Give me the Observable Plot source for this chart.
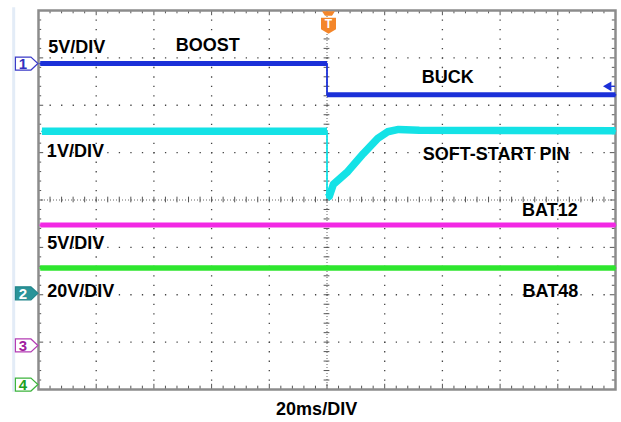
<!DOCTYPE html>
<html><head><meta charset="utf-8">
<script src="https://cdn.jsdelivr.net/npm/d3@7"></script>
<script src="https://cdn.jsdelivr.net/npm/@observablehq/plot@0.6"></script>
<style>html,body{margin:0;padding:0;background:#fff}#chart{width:621px;height:422px}</style>
</head><body><div id="chart"></div>
<script>
// Time in divisions (20 ms/div), level in screen divisions (0 = bottom graticule line)
const triggerTime = 5.0;
const boostBuckT = [0.03, 5.0, 5.0, 10.0];
const boostBuckV = [6.88, 6.88, 6.22, 6.22];
const softStartT = [0.06, 5.0, 5.0, 5.04, 5.11, 5.36, 5.63, 5.88, 6.05, 6.24, 6.6, 10.0];
const softStartV = [5.45, 5.45, 4.05, 4.08, 4.33, 4.60, 4.98, 5.30, 5.44, 5.49, 5.47, 5.46];
const bat12T = [0.03, 10.0];
const bat12V = [3.47, 3.47];
const bat48T = [0.03, 10.0];
const bat48V = [2.565, 2.565];

const labelText = ["5V/DIV", "BOOST", "BUCK", "1V/DIV", "SOFT-START PIN", "BAT12", "5V/DIV", "20V/DIV", "BAT48"];
const labelT    = [0.17, 2.38, 6.64, 0.145, 6.66, 8.38, 0.15, 0.15, 8.39];
const labelV    = [7.23, 7.27, 6.60, 5.03, 4.96, 3.78, 3.09, 2.07, 2.07];
const timeLabel = "20ms/DIV";

const channelNames  = ["1", "2", "3", "4"];
const channelLevels = [6.88, 2.03, 0.93, 0.105];
const refArrowLevel = 6.40;

const chColors = {
  blue: "#1b30d8", cyan: "#14e2e6", magenta: "#f228e4", green: "#2ee62e"
};
const markerStyle = [
  {stroke: "#3a3ac8", fill: "#ffffff", text: "#3030c0"},
  {stroke: "#23868c", fill: "#2a9499", text: "#ffffff"},
  {stroke: "#b43cb4", fill: "#ffffff", text: "#a020a0"},
  {stroke: "#3cb43c", fill: "#ffffff", text: "#20a020"}
];

function rows(T, V) { return T.map((t, i) => ({t, v: V[i]})); }
function segments(T, V) {
  let s = 0;
  return T.map((t, i) => { if (i > 0 && t === T[i - 1]) s++; return {t, v: V[i], s}; });
}

const majorX = d3.range(1, 10).filter(v => v !== 5);
const majorY = d3.range(1, 8).filter(v => v !== 4);
const minorX = d3.range(0, 50.5).map(i => i / 5);
const minorY = d3.range(0, 40.5).map(i => i / 5);
const isMajor = d => Math.abs(d - Math.round(d)) < 1e-6;

const chanSymbol = {draw(ctx) {
  ctx.moveTo(-7.5, -6.5); ctx.lineTo(8, -6.5); ctx.lineTo(15, 0);
  ctx.lineTo(8, 6.5); ctx.lineTo(-7.5, 6.5); ctx.closePath();
}};
const trigSymbol = {draw(ctx) {
  ctx.moveTo(-6.5, -13.5); ctx.lineTo(6.5, -13.5); ctx.lineTo(3.5, -9); ctx.lineTo(-3.5, -9); ctx.closePath();
  ctx.moveTo(-7.5, -7); ctx.lineTo(7.5, -7); ctx.lineTo(7.5, 4.5); ctx.lineTo(0, 9); ctx.lineTo(-7.5, 4.5); ctx.closePath();
}};

function trace(T, V, color, w) {
  return [
    Plot.line(rows(T, V), {x: "t", y: "v", stroke: color, strokeWidth: 1.8}),
    Plot.line(segments(T, V), {x: "t", y: "v", z: "s", stroke: color, strokeWidth: w, strokeLinecap: "butt", strokeLinejoin: "round"})
  ];
}

const labels = labelText.map((text, i) => ({text, t: labelT[i], v: labelV[i]}));
const markers = channelNames.map((name, i) => ({name, v: channelLevels[i], i}));

const chart = Plot.plot({
  width: 621, height: 422,
  marginLeft: 38, marginRight: 6, marginTop: 10, marginBottom: 33,
  x: {domain: [0, 10], axis: null},
  y: {domain: [0, 8], axis: null},
  style: {fontFamily: "'Liberation Sans', Arial, sans-serif", background: "#fff"},
  marks: [
    // faint side stripe
    Plot.ruleX([-0.43], {y1: -0.06, y2: 8.06, stroke: "#e3ecf7", strokeWidth: 3}),
    // graticule
    Plot.ruleX(majorX, {stroke: "#444", strokeWidth: 1.3, strokeDasharray: "1.3,8.175"}),
    Plot.ruleY(majorY, {stroke: "#444", strokeWidth: 1.3, strokeDasharray: "1.3,10.24"}),
    Plot.ruleX([5], {stroke: "#666", strokeWidth: 1, strokeDasharray: "1,2"}),
    Plot.ruleY([4], {stroke: "#666", strokeWidth: 1, strokeDasharray: "1,2"}),
    Plot.ruleY(minorY, {y: d => d, x1: 5 - 0.05, x2: 5 + 0.05, stroke: "#555", strokeWidth: 1}),
    Plot.ruleX(minorX, {x: d => d, y1: 4 - 0.06, y2: 4 + 0.06, stroke: "#555", strokeWidth: 1}),
    // border ticks
    Plot.ruleX(minorX, {x: d => d, y1: 8, y2: d => 8 - (isMajor(d) ? 0.11 : 0.07), stroke: "#555", strokeWidth: 1}),
    Plot.ruleX(minorX, {x: d => d, y1: 0, y2: d => (isMajor(d) ? 0.11 : 0.07), stroke: "#555", strokeWidth: 1}),
    Plot.ruleY(minorY, {y: d => d, x1: 0, x2: d => (isMajor(d) ? 0.09 : 0.055), stroke: "#555", strokeWidth: 1}),
    Plot.ruleY(minorY, {y: d => d, x1: 10, x2: d => 10 - (isMajor(d) ? 0.09 : 0.055), stroke: "#555", strokeWidth: 1}),
    Plot.frame({stroke: "#8c8c8c", strokeWidth: 2.5}),
    // traces
    ...trace(boostBuckT, boostBuckV, chColors.blue, 5),
    ...trace(softStartT, softStartV, chColors.cyan, 7.5),
    ...trace(bat12T, bat12V, chColors.magenta, 5),
    ...trace(bat48T, bat48V, chColors.green, 5.5),
    // reference arrow at right
    Plot.ruleY([refArrowLevel], {x1: 9.88, x2: 10, stroke: chColors.blue, strokeWidth: 1.2}),
    Plot.dot([refArrowLevel], {x: 9.88, y: d => d, symbol: "triangle", r: 3.6, rotate: -90, fill: chColors.blue, stroke: "none"}),
    // trigger marker
    Plot.dot([triggerTime], {x: d => d, y: 7.70, dx: 1.5, symbol: trigSymbol, fill: "#f4862a", stroke: "none"}),
    Plot.text([triggerTime], {x: d => d, y: 7.70, dx: 1.5, dy: -1, text: () => "T", fill: "#fff", fontSize: 12, fontWeight: "bold"}),
    // channel markers
    Plot.dot(markers, {x: -0.27, y: "v", symbol: chanSymbol, fill: d => markerStyle[d.i].fill, stroke: d => markerStyle[d.i].stroke, strokeWidth: 1.2}),
    Plot.text(markers, {x: -0.27, y: "v", text: "name", fill: d => markerStyle[d.i].text, fontSize: 15, fontWeight: "bold", dy: 0.5}),
    // labels
    Plot.text(labels, {x: "t", y: "v", text: "text", textAnchor: "start", fontSize: 18, fontWeight: "bold", fill: "#000"}),
    Plot.text([timeLabel], {x: 4.82, y: -0.41, text: d => d, textAnchor: "middle", fontSize: 18, fontWeight: "bold", fill: "#000"})
  ]
});
document.getElementById("chart").appendChild(chart);
</script>
</body></html>
